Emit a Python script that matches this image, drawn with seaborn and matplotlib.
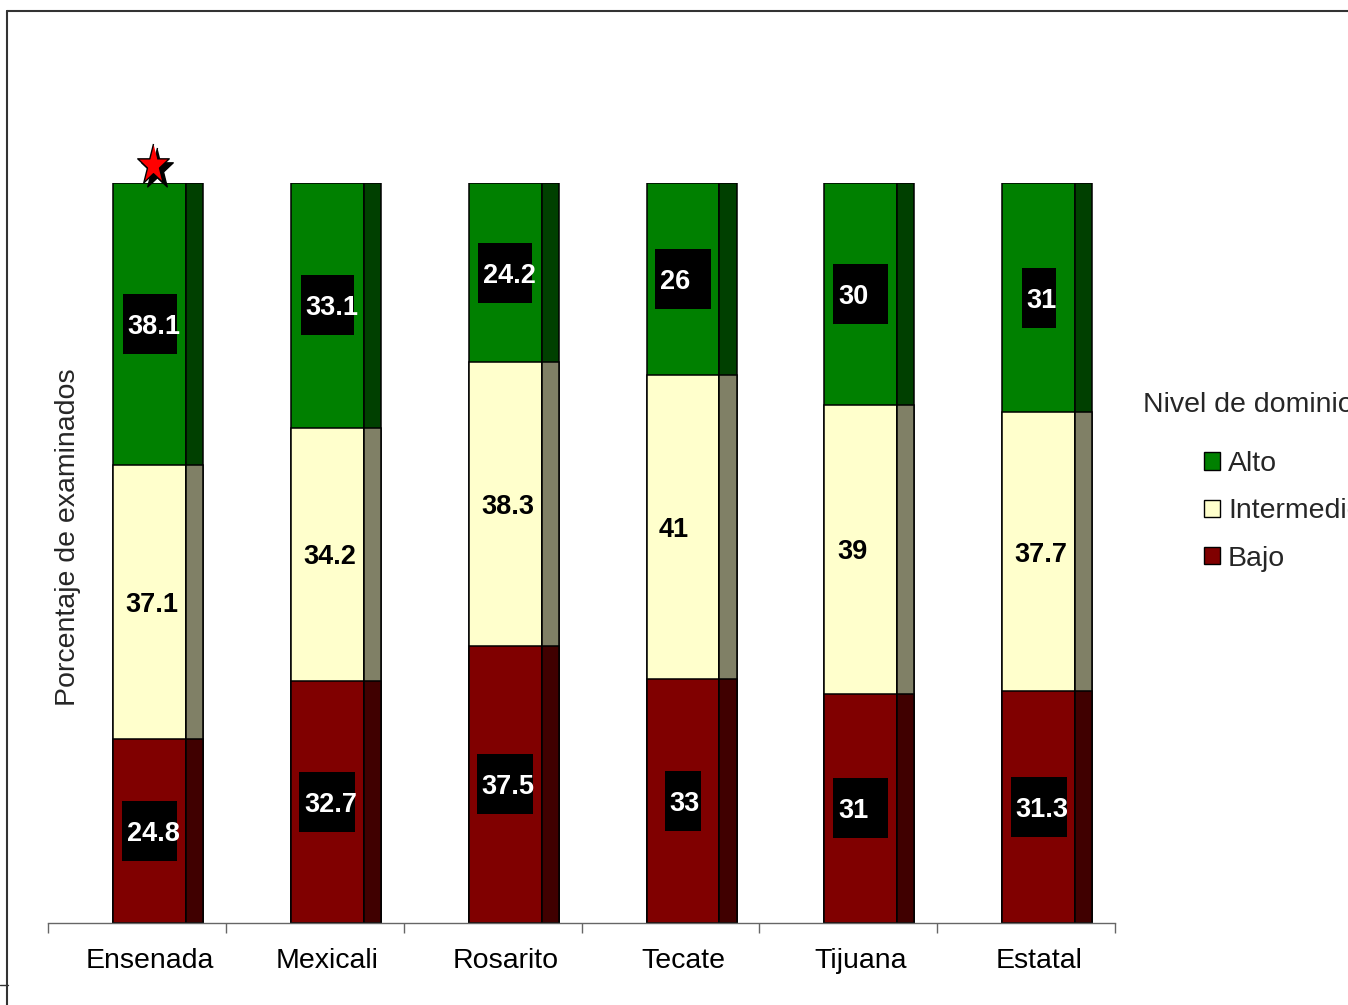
import numpy as np
import pandas as pd
import matplotlib
matplotlib.use("Agg")
import matplotlib.pyplot as plt
import matplotlib.transforms as mtransforms
from matplotlib.lines import Line2D
from matplotlib.patches import Patch
import seaborn as sns

# === Data ===
regiones = ["Ensenada", "Mexicali", "Rosarito", "Tecate", "Tijuana", "Estatal"]
bajo = [24.8, 32.7, 37.5, 33, 31, 31.3]
intermedio = [37.1, 34.2, 38.3, 41, 39, 37.7]
alto = [38.1, 33.1, 24.2, 26, 30, 31]
niveles = ["Alto", "Intermedio", "Bajo"]
region_estrella = "Ensenada"

df = pd.DataFrame({"region": regiones, "bajo": bajo,
                   "intermedio": intermedio, "alto": alto})
df["tope_bajo"] = df["bajo"]
df["tope_inter"] = df["bajo"] + df["intermedio"]
df["tope_alto"] = df["tope_inter"] + df["alto"]

# === Style ===
sns.set_theme(style="white")
plt.rcParams["font.family"] = ["Liberation Sans", "DejaVu Sans"]

verde, verde_lado = "#008000", "#004000"
crema, crema_lado = "#FFFFCC", "#808066"
rojo, rojo_lado = "#800000", "#400000"

W, H = 1348, 1005
px_x = 1067 / 6          # pixels per category
px_y = 740 / 100         # pixels per percent
frente = 0.41            # front face width
lado = 0.096             # side face width
fs = 20.5

# label box widths in pixels (as drawn in the original)
caja_alto = [54, 53, 54, 56, 55, 34]
caja_bajo = [55, 56, 56, 36, 55, 56]

fig = plt.figure(figsize=(W / 100, H / 100), dpi=100)
ax = fig.add_axes([48 / W, (H - 923) / H, 1067 / W, 740 / H])

# front faces: layered cumulative totals
for col, color in [("tope_alto", verde), ("tope_inter", crema), ("tope_bajo", rojo)]:
    sns.barplot(data=df, x="region", y=col, color=color, width=frente,
                saturation=1, edgecolor="black", linewidth=1.1,
                errorbar=None, ax=ax)

# side faces (fake 3D depth)
pos = np.arange(len(regiones))
for col, color in [("tope_alto", verde_lado), ("tope_inter", crema_lado),
                   ("tope_bajo", rojo_lado)]:
    ax.bar(pos + frente / 2, df[col], width=lado, align="edge",
           color=color, edgecolor="black", linewidth=1.1)

# === Value labels ===
alto_caja = 60 / px_y
for i, row in df.iterrows():
    for val, mid, w in [(row["alto"], row["tope_inter"] + row["alto"] / 2, caja_alto[i]),
                        (row["bajo"], row["bajo"] / 2, caja_bajo[i])]:
        wd = w / px_x
        ax.bar(i, alto_caja, bottom=mid - alto_caja / 2, width=wd,
               color="black", edgecolor="none", linewidth=0)
        ax.text(i - wd / 2 + 4.5 / px_x, mid, f"{val:g}", color="white",
                fontsize=19.5, fontweight="bold", ha="left", va="center_baseline")
    mid = row["bajo"] + row["intermedio"] / 2
    ax.text(i - frente / 2 + 12.5 / px_x, mid, f"{row['intermedio']:g}", color="black",
            fontsize=19.5, fontweight="bold", ha="left", va="center_baseline")

# star over the highlighted region
ang = np.pi / 2 + np.arange(10) * np.pi / 5
rad = np.where(np.arange(10) % 2 == 0, 1.0, 0.382)
estrella = np.column_stack([rad * np.cos(ang), 1.3 * rad * np.sin(ang)])
ix = regiones.index(region_estrella)
sombra = mtransforms.offset_copy(ax.transData, fig=fig, x=4, y=-4, units="dots")
ax.plot([ix + 0.022], [102.4], marker=estrella, markersize=31, color="black",
        linestyle="none", transform=sombra, clip_on=False, zorder=5)
ax.plot([ix + 0.022], [102.4], marker=estrella, markersize=31,
        markerfacecolor="#FF0000", markeredgecolor="black", markeredgewidth=1,
        linestyle="none", clip_on=False, zorder=6)

# === Axes ===
ax.set_xlim(-0.571, len(regiones) - 0.571)
ax.set_ylim(0, 100)
ax.set_xlabel("")
ax.set_ylabel("")
ax.set_yticks([])
ax.set_xticks(pos)
ax.set_xticklabels(regiones, fontsize=fs)
ax.set_xticks(np.arange(len(regiones) + 1) - 0.571, minor=True)
ax.tick_params(axis="x", which="major", length=0, pad=18, colors="black")
ax.tick_params(axis="x", which="minor", length=7.2, width=1, color="#666666",
               direction="out", bottom=True)
for s in ["left", "top", "right"]:
    ax.spines[s].set_visible(False)
ax.spines["bottom"].set_color("#666666")
ax.spines["bottom"].set_linewidth(1)
ax.patch.set_alpha(0)

fig.text(68 / W, 1 - 537 / H, "Porcentaje de examinados", rotation=90,
         ha="center", va="center", fontsize=fs)

# === Legend ===
fig.text(1143 / W, 1 - 405 / H, "Nivel de dominio", ha="left", va="center", fontsize=fs)
handles = [Patch(facecolor=c, edgecolor="black", linewidth=1) for c in [verde, crema, rojo]]
fig.legend(handles, niveles, loc="upper left", bbox_to_anchor=(1204 / W, 1 - 451 / H),
           frameon=False, fontsize=fs, handlelength=0.56, handleheight=0.56,
           handletextpad=0.28, labelspacing=0.75, borderpad=0, borderaxespad=0)

# outer frame
fig.add_artist(Line2D([7 / W, 7 / W], [0, 1 - 11 / H], color="#333333", lw=1.5))
fig.add_artist(Line2D([7 / W, 1], [1 - 11 / H, 1 - 11 / H], color="#333333", lw=1.5))
fig.add_artist(Line2D([0, 8 / W], [1 - 985 / H, 1 - 985 / H], color="#333333", lw=1))

fig.savefig("out.png", dpi=100)
